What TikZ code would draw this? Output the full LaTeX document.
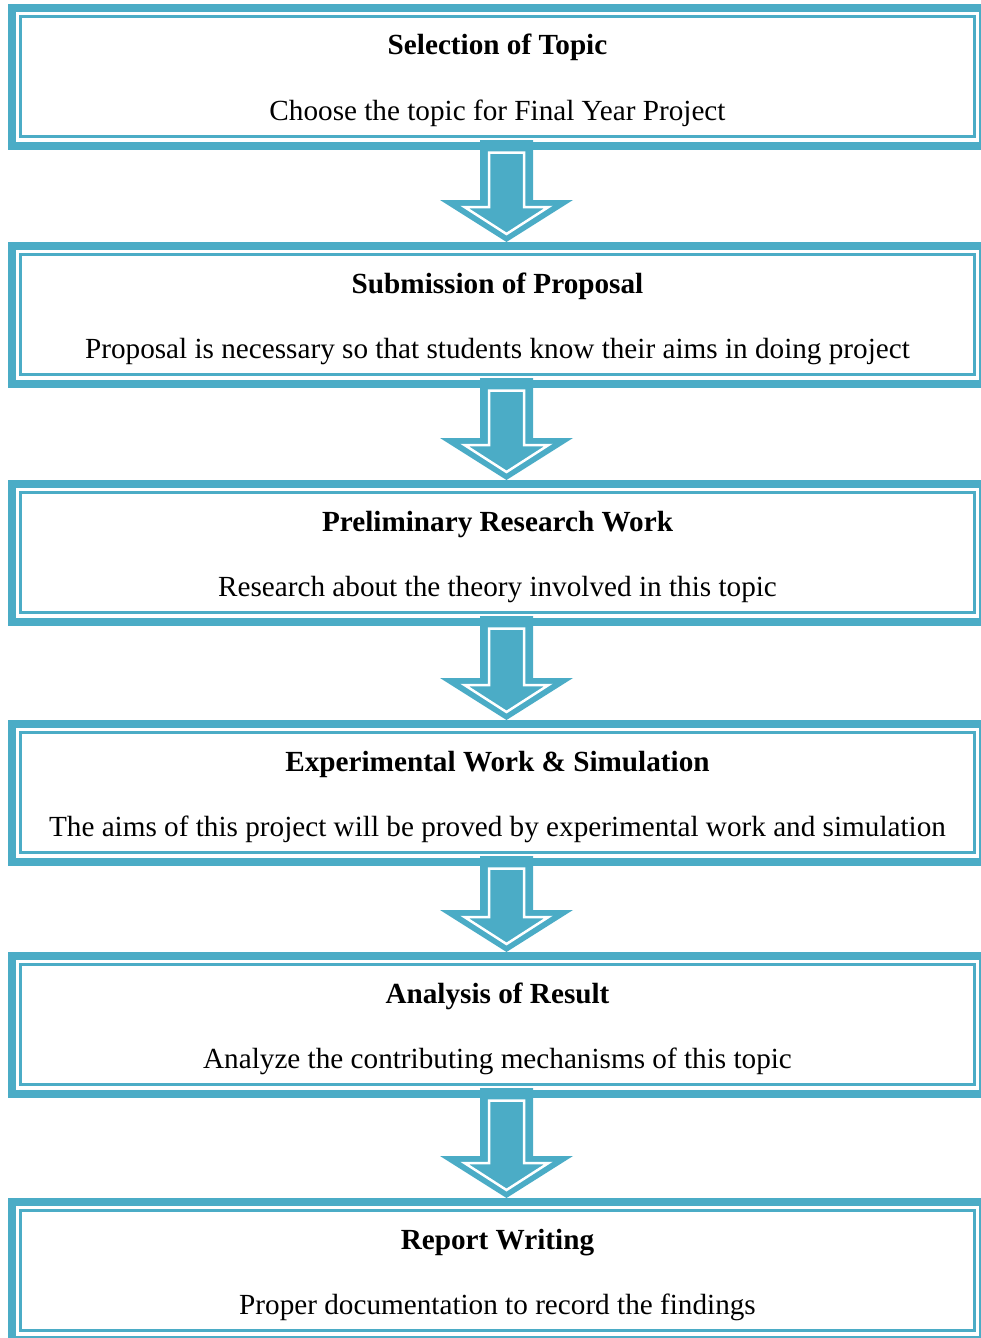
\documentclass[tikz,border=0pt]{standalone}
\usepackage{fontspec}
\setmainfont{Liberation Serif}
\usetikzlibrary{calc}
\definecolor{accent}{HTML}{4BACC6}
\tikzset{
  stage/.style={rectangle, minimum width=979pt, minimum height=146pt,
    inner sep=0pt, outer sep=0pt},
  band/.style={draw=accent, line width=8pt},
  rule/.style={draw=accent, line width=3pt},
  heading/.style={font=\fontsize{29.2}{34}\selectfont\bfseries, anchor=base, inner sep=0pt},
  caption/.style={font=\fontsize{29.2}{34}\selectfont, anchor=base, inner sep=0pt},
  arrowbody/.style={fill=accent},
  arrowline/.style={draw=white, line width=2.5pt, line join=miter},
}
% one stage of the flow: name, top edge, heading, caption
\newcommand\stagebox[4]{%
  \node[stage] (#1) at (497.5,#2+73) {};
  \draw[band] ([xshift=4pt,yshift=-4pt]#1.north west) rectangle ([xshift=-4pt,yshift=4pt]#1.south east);
  \draw[rule] ([xshift=12.5pt,yshift=-12.5pt]#1.north west) rectangle ([xshift=-12.5pt,yshift=13.5pt]#1.south east);
  \node[heading] (#1-head) at ([yshift=-51pt]#1.north) {#3};
  \node[caption] (#1-text) at ([yshift=-116pt]#1.north) {#4};
}
% double-outlined block arrow from one stage to the next
\newcommand\flowarrow[2]{%
  \fill[arrowbody] let \p1=(#1.south), \p2=(#2.north) in
    ({\x1+9pt-26.5pt},{\y1+10pt}) -- ({\x1+9pt+26.5pt},{\y1+10pt})
    -- ({\x1+9pt+26.5pt},{\y2+42pt}) -- ({\x1+9pt+66.5pt},{\y2+42pt})
    -- ({\x1+9pt},{\y2}) -- ({\x1+9pt-66.5pt},{\y2+42pt})
    -- ({\x1+9pt-26.5pt},{\y2+42pt}) -- cycle;
  \draw[arrowline] let \p1=(#1.south), \p2=(#2.north) in
    ({\x1+9pt-17.5pt},{\y1-2.5pt}) -- ({\x1+9pt-17.5pt},{\y2+35pt})
    -- ({\x1+9pt-42pt},{\y2+35pt}) -- ({\x1+9pt},{\y2+8pt})
    -- ({\x1+9pt+42pt},{\y2+35pt}) -- ({\x1+9pt+17.5pt},{\y2+35pt})
    -- ({\x1+9pt+17.5pt},{\y1-2.5pt}) -- cycle;
}
\begin{document}
\begin{tikzpicture}[x=1pt,y=-1pt]
  \useasboundingbox (0,0) rectangle (981,1338);
  \clip (0,0) rectangle (981,1338);
  \stagebox{s1}{4}{Selection of Topic}{Choose the topic for Final Year Project}
  \stagebox{s2}{242}{Submission of Proposal}{Proposal is necessary so that students know their aims in doing project}
  \stagebox{s3}{480}{Preliminary Research Work}{Research about the theory involved in this topic}
  \stagebox{s4}{720}{Experimental Work \& Simulation}{The aims of this project will be proved by experimental work and simulation}
  \stagebox{s5}{952}{Analysis of Result}{Analyze the contributing mechanisms of this topic}
  \stagebox{s6}{1198}{Report Writing}{Proper documentation to record the findings}
  \flowarrow{s1}{s2}
  \flowarrow{s2}{s3}
  \flowarrow{s3}{s4}
  \flowarrow{s4}{s5}
  \flowarrow{s5}{s6}
\end{tikzpicture}
\end{document}
